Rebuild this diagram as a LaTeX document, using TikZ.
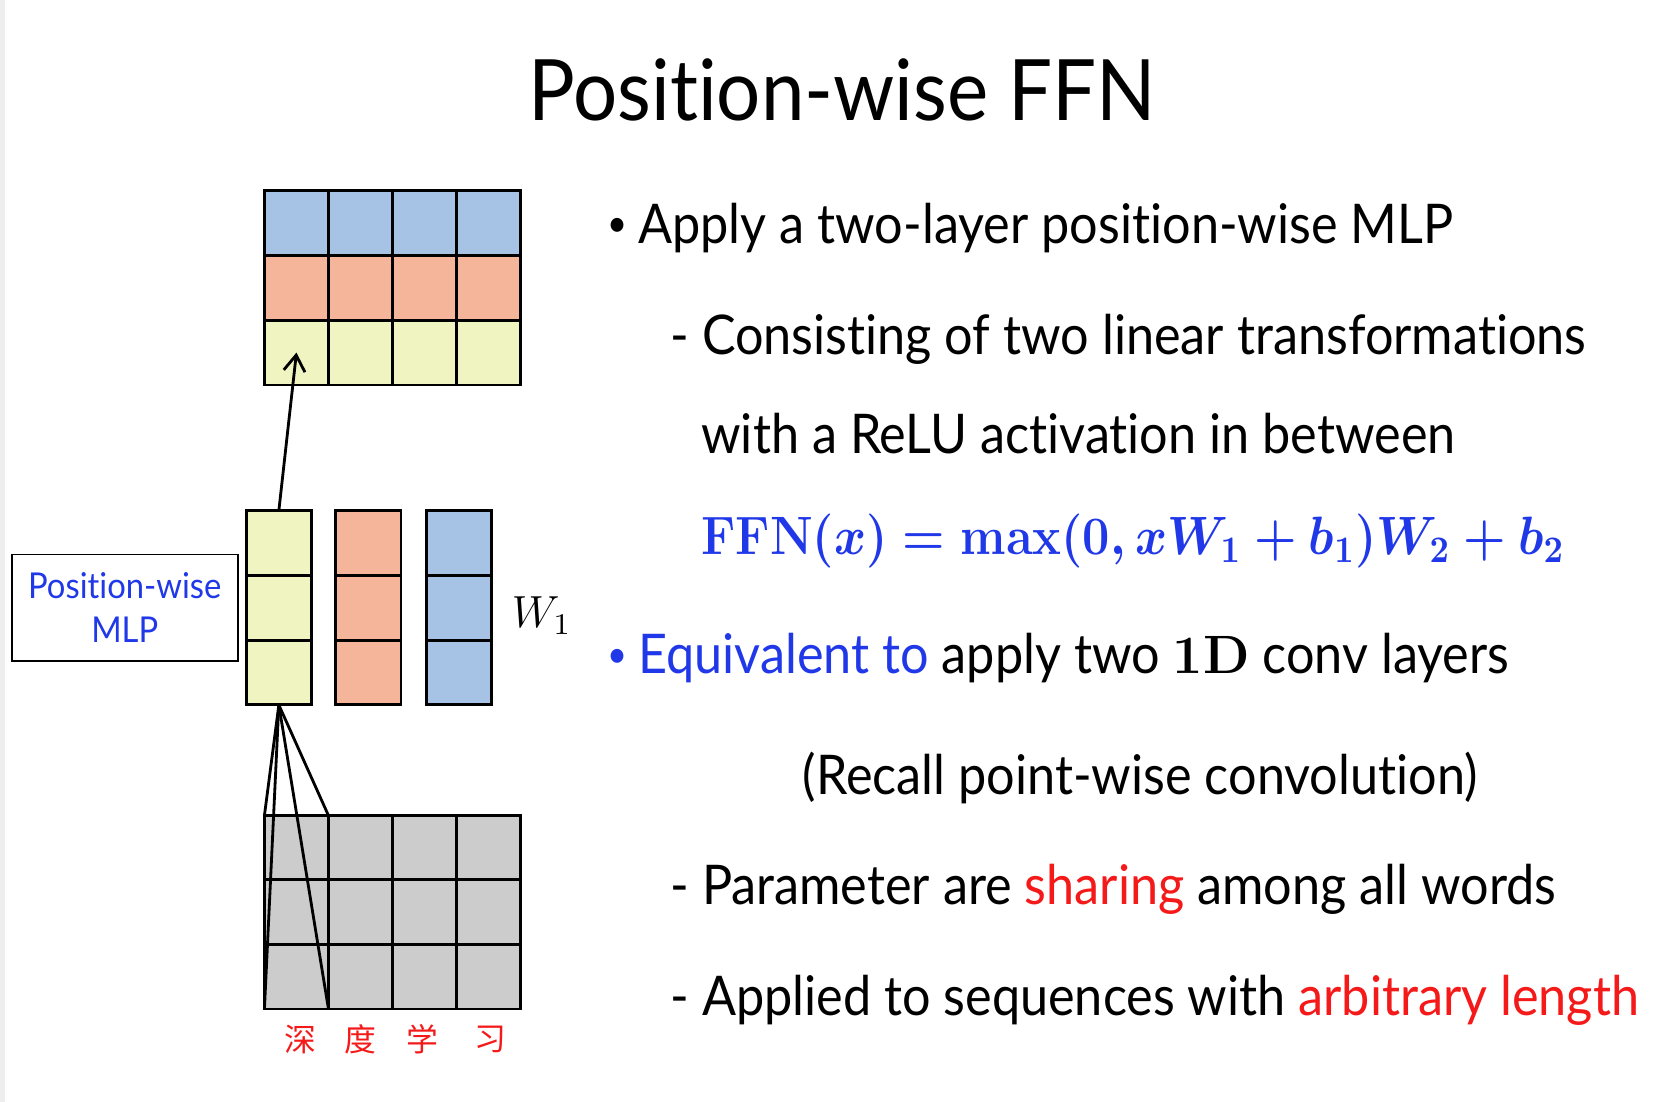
\documentclass[tikz,border=0pt]{standalone}
\usepackage{amsmath,amssymb}
\usepackage{graphicx}
\usepackage[no-math]{fontspec}
\setmainfont{Lato}[FakeStretch=0.92, Ligatures=NoCommon]
\newfontfamily\zhfont{Noto Sans CJK SC}
\usetikzlibrary{arrows.meta, positioning, calc}
\definecolor{cellblue}{HTML}{A6C3E5}
\definecolor{cellsalmon}{HTML}{F5B59A}
\definecolor{cellyellow}{HTML}{EFF4C1}
\definecolor{cellgray}{HTML}{CCCCCC}
\definecolor{txtblue}{HTML}{2038E8}
\definecolor{txtred}{HTML}{F51A1A}
\definecolor{edge}{HTML}{EEEEEE}
\newcommand{\ffnformula}{\scalebox{0.9}[1]{\boldmath$\mathrm{FFN}(x)=\max(0,xW_1+b_1)W_2+b_2$}}

\begin{document}
\begin{tikzpicture}[
  x=0.01cm, y=-0.01cm,
  >={Straight Barb[length=1.5mm, width=2mm]},
  cell/.style={draw=black, line width=0.75pt, minimum width=0.6cm,
    minimum height=0.607cm, inner sep=0pt, outer sep=0pt},
  link/.style={black, line width=0.75pt},
  body/.style={font=\fontsize{14.6}{17}\selectfont, anchor=base west, inner sep=0pt},
  dot/.style={font=\fontsize{10}{12}\selectfont, anchor=base west, inner sep=0pt},
  zh/.style={font=\zhfont\fontsize{8.5}{10}\selectfont, text=txtred},
]

% Canvas
\useasboundingbox (0,0) rectangle (1568,1033);
\fill[edge] (0,0) rectangle (5,1033);

% Title
\node[font=\fontsize{22.6}{26}\selectfont, anchor=base] (title) at (790,113)
  {Position-wise FFN};

% =============================================
% Left: output grid, MLP weights, input grid
% =============================================

% Output grid (one row per filter)
\foreach \clr [count=\r] in {cellblue,cellsalmon,cellyellow}{
  \foreach \c in {1,...,4}{
    \node[cell, fill=\clr] (out-\c-\r) at ({248+60*\c-30}, {179+60.67*\r-30.33}) {};
  }
}

% Weight columns W_1
\foreach \clr/\x [count=\b] in {cellyellow/261.5, cellsalmon/345.5, cellblue/430.5}{
  \foreach \r in {1,2,3}{
    \node[cell, minimum width=0.61cm, fill=\clr] (bar-\b-\r) at (\x, {479+60.67*\r-30.33}) {};
  }
}
\node[font=\fontsize{12}{14}\selectfont] (w1) at (508,577) {$W_1$};

\node[draw, line width=0.5pt, minimum width=2.12cm, minimum height=1.0cm,
  align=center, text=txtblue, font=\fontsize{9.5}{11.7}\selectfont]
  (mlp) at (117,570) {Position-wise\\MLP};

% Input grid (one column per word)
\foreach \c in {1,...,4}{
  \foreach \r in {1,2,3}{
    \node[cell, fill=cellgray] (in-\c-\r) at ({248+60*\c-30}, {765+60.33*\r-30.17}) {};
  }
}
\foreach \w/\x [count=\c] in {深/282, 度/338, 学/396, 习/460}
  \node[zh] (word-\c) at (\x,975) {\w};

% Connectors
\draw[link, ->] (bar-1-1.north) -- (out-1-3.center);
\foreach \tgt in {in-1-1.north west, in-1-1.north east, in-1-3.south west, in-1-3.south east}
  \draw[link] (bar-1-3.south) -- (\tgt);

% =============================================
% Right: bullet text
% =============================================
\node[dot] (d1) at (569,222) {\textbullet};
\node[body] (l1) at (598,228) {Apply a two-layer position-wise MLP};
\node[body] (l2) at (628,332) {- Consisting of two linear transformations};
\node[body] (l3) at (657,425) {with a ReLU activation in between};
\node[body, font=\fontsize{14.4}{17}\selectfont, text=txtblue] (l4) at (657,520) {\ffnformula};
\node[dot, text=txtblue] (d2) at (569,626) {\textbullet};
\node[body] (l5) at (598,632)
  {{\color{txtblue}Equivalent to} apply two $\mathbf{1D}$ conv layers};
\node[body] (l6) at (752,745) {(Recall point-wise convolution)};
\node[body] (l7) at (628,848)
  {- Parameter are {\color{txtred}sharing} among all words};
\node[body] (l8) at (628,952)
  {- Applied to sequences with {\color{txtred}arbitrary length}};

\end{tikzpicture}
\end{document}
